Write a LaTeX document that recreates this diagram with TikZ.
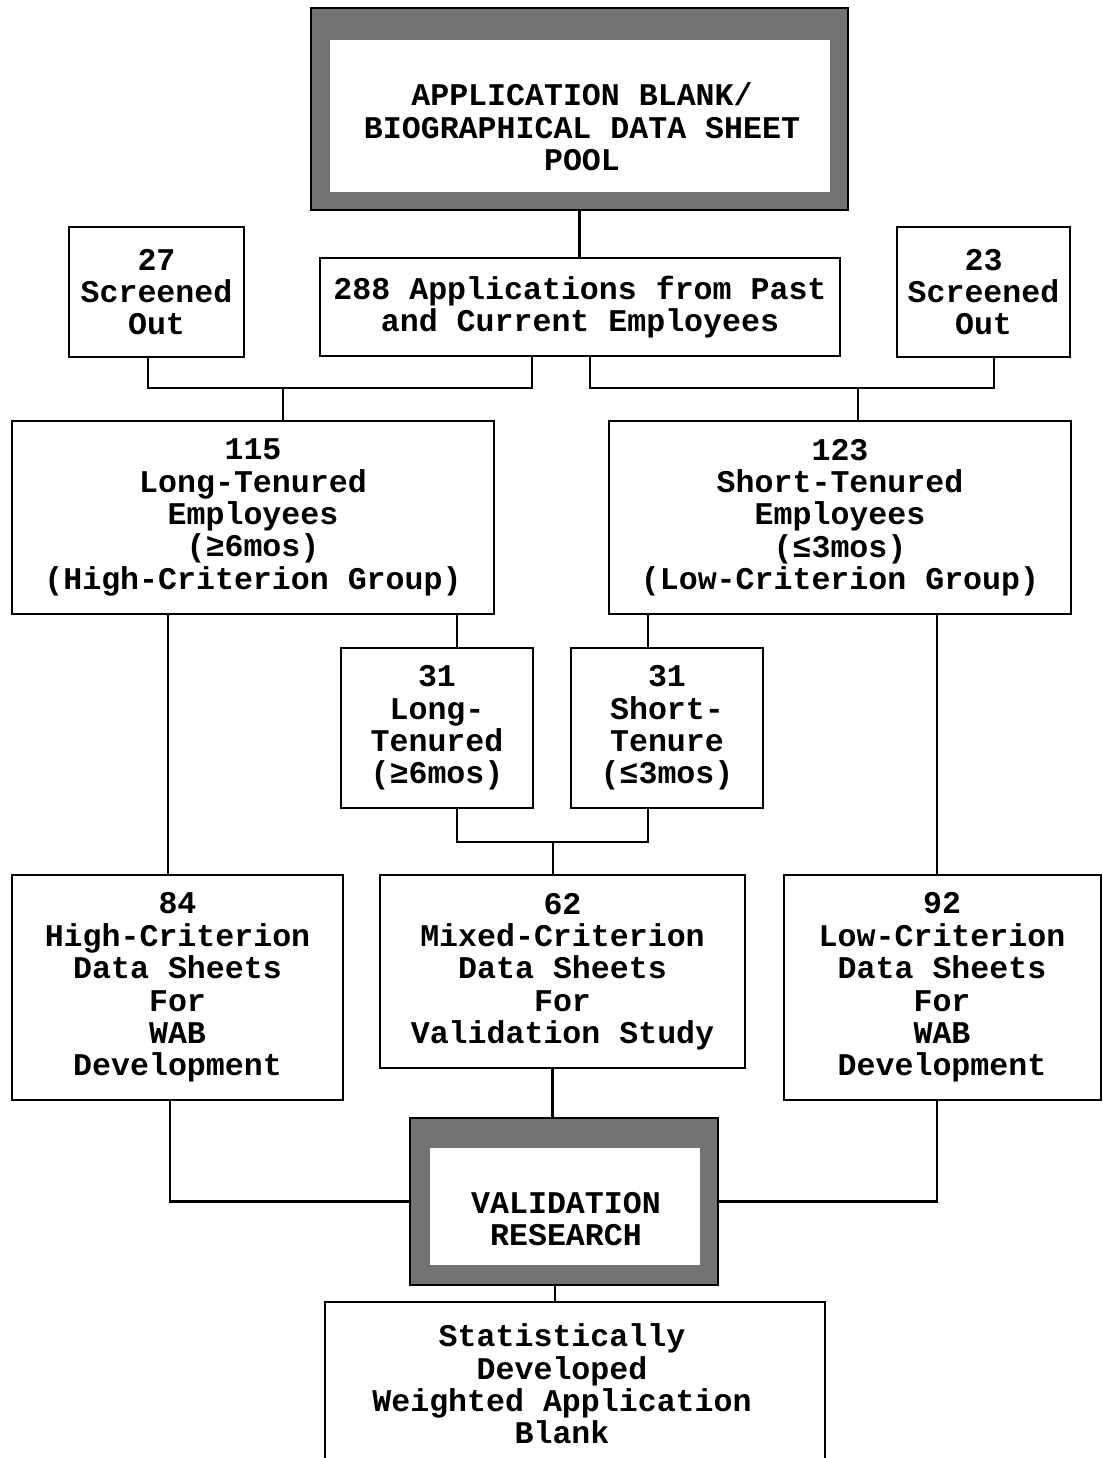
\documentclass[tikz,border=0pt]{standalone}
\usepackage{fontspec}
\setmainfont{Liberation Mono}
\begin{document}
\begin{tikzpicture}[x=0.5pt,y=-0.5pt,
  font=\fontsize{15.8}{16.2}\selectfont\bfseries,
  box/.style={draw, line width=1pt, align=center, inner sep=0pt},
  frame/.style={draw, line width=1pt, fill=black!55, inner sep=0pt},
  hole/.style={fill=white, inner sep=0pt},
  txt/.style={align=center, inner sep=0pt},
  link/.style={line width=1.1pt}]
\useasboundingbox (0,0) rectangle (1103,1458);
% top pool
\node[frame, minimum width=268.5pt, minimum height=101pt] (pool) at (579.5,109) {};
\node[hole, minimum width=250pt, minimum height=76pt] (poolin) at (580,116) {};
\node[txt] (pooltext) at (582,127) {APPLICATION BLANK/\\BIOGRAPHICAL DATA SHEET\\POOL};
% second row
\node[box, minimum width=87.5pt, minimum height=65pt] (s27) at (156.5,292) {27\\Screened\\Out};
\node[box, minimum width=260pt, minimum height=49pt] (app) at (580,307) {288 Applications from Past\\and Current Employees};
\node[box, minimum width=86.5pt, minimum height=65pt] (s23) at (983.5,292) {23\\Screened\\Out};
% third row
\node[box, minimum width=241pt, minimum height=96.5pt] (long) at (253,517.5) {115\\Long-Tenured\\Employees\\(≥6mos)\\(High-Criterion Group)};
\node[box, minimum width=231pt, minimum height=96.5pt] (short) at (840,517.5) {123\\Short-Tenured\\Employees\\(≤3mos)\\(Low-Criterion Group)};
% small boxes
\node[box, minimum width=96pt, minimum height=80pt] (l31) at (437,728) {31\\Long-\\Tenured\\(≥6mos)};
\node[box, minimum width=96pt, minimum height=80pt] (s31) at (667,728) {31\\Short-\\Tenure\\(≤3mos)};
% data sheet boxes
\node[box, minimum width=165.5pt, minimum height=112.5pt] (hc) at (177.5,987.5) {84\\High-Criterion\\Data Sheets\\For\\WAB\\Development};
\node[box, minimum width=182.5pt, minimum height=96.5pt] (mc) at (562.5,971.5) {62\\Mixed-Criterion\\Data Sheets\\For\\Validation Study};
\node[box, minimum width=158.5pt, minimum height=112.5pt] (lc) at (942,987.5) {92\\Low-Criterion\\Data Sheets\\For\\WAB\\Development};
% validation research
\node[frame, minimum width=154pt, minimum height=83.5pt] (val) at (564,1201.5) {};
\node[hole, minimum width=135pt, minimum height=58.5pt] (valin) at (565,1206.5) {};
\node[txt] (valtext) at (566,1219) {VALIDATION\\RESEARCH};
% final
\node[inner sep=0pt, minimum width=250pt, minimum height=80pt] (final) at (575,1382) {};
\node[txt] (finaltext) at (562,1384) {Statistically\\Developed\\Weighted Application\\Blank};
\draw[line width=1pt] (final.south west) |- (final.north east) -- (final.south east);
% connectors
\draw[link] (pool.south) -- (pool.south |- app.north);
\coordinate (j1) at (283,388);
\coordinate (j2) at (858,388);
\draw[link] ([xshift=-4.25pt]s27.south) |- (j1) -| ([xshift=-24pt]app.south);
\draw[link] (j1) -- (j1 |- long.north);
\draw[link] ([xshift=5pt]app.south) |- (j2) -| ([xshift=5.25pt]s23.south);
\draw[link] (j2) -- (j2 |- short.north);
\path ([xshift=-42.5pt]long.south) coordinate (p1);
\path ([xshift=102pt]long.south) coordinate (p2);
\path ([xshift=-96pt]short.south) coordinate (p3);
\path ([xshift=48.5pt]short.south) coordinate (p4);
\draw[link] (p1) -- (p1 |- hc.north);
\draw[link] (p2) -- (p2 |- l31.north);
\draw[link] (p3) -- (p3 |- s31.north);
\draw[link] (p4) -- (p4 |- lc.north);
\coordinate (j3) at (553,842);
\draw[link] ([xshift=10pt]l31.south) |- (j3) -| ([xshift=-9.5pt]s31.south);
\draw[link] (j3) -- (j3 |- mc.north);
\path ([xshift=-3.75pt]hc.south) coordinate (p5);
\path ([xshift=-5pt]mc.south) coordinate (p6);
\path ([xshift=-2.5pt]lc.south) coordinate (p7);
\draw[link] (p5) |- (val.west);
\draw[link] (p7) |- (val.east);
\draw[link] (p6) -- (p6 |- val.north);
\draw[link] ([xshift=-4.5pt]val.south) -- ([xshift=-4.5pt]val.south |- final.north);
\end{tikzpicture}
\end{document}
